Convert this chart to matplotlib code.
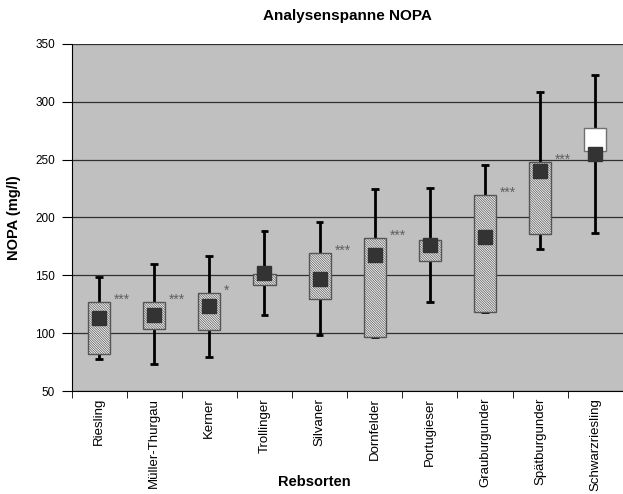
import matplotlib
matplotlib.use("Agg")
import matplotlib.pyplot as plt
from matplotlib.patches import Rectangle
import numpy as np

plt.rcParams['font.family'] = ['Liberation Sans', 'DejaVu Sans']
plt.rcParams['hatch.linewidth'] = 0.5

# values (mg/l)
sorten = ['Riesling', 'Müller-Thurgau', 'Kerner', 'Trollinger', 'Silvaner',
          'Dornfelder', 'Portugieser', 'Grauburgunder', 'Spätburgunder', 'Schwarzriesling']
mins   = [78, 73, 79, 116, 98.5, 97, 127, 118.5, 172.5, 187]
q_low  = [82, 103.5, 102.5, 141.5, 129.5, 97, 162.5, 118.5, 185.5, 257.5]
q_high = [127, 127, 135, 151, 169.5, 182.5, 180.5, 219.5, 248, 277]
maxs   = [148.5, 159.5, 167, 188, 196, 225, 225.5, 245, 308.5, 323]
mittel = [113, 116, 123.5, 152, 147, 168, 176, 183, 240.5, 254.5]
signif = ['***', '***', '*', '', '***', '***', '', '***', '***', '']

fig = plt.figure(figsize=(6.23, 4.94), dpi=100)
ax = fig.add_axes([0.1148, 0.2085, 0.885, 0.7025])
ax.set_facecolor('#c0c0c0')

x = np.arange(len(sorten))
bw = 0.4

for i in x:
    ax.plot([i, i], [mins[i], maxs[i]], color='black', lw=2, zorder=3, solid_capstyle='butt')
    for v in (mins[i], maxs[i]):
        ax.plot([i - 0.07, i + 0.07], [v, v], color='black', lw=2, zorder=3, solid_capstyle='butt')
    if sorten[i] == 'Schwarzriesling':
        box = Rectangle((i - bw / 2, q_low[i]), bw, q_high[i] - q_low[i],
                        facecolor='white', edgecolor='#707070', lw=1, zorder=4)
    else:
        box = Rectangle((i - bw / 2, q_low[i]), bw, q_high[i] - q_low[i],
                        facecolor='#f4f4f4', edgecolor='#555555', lw=1,
                        hatch='\\' * 14, zorder=4)
    ax.add_patch(box)
    if signif[i]:
        ax.text(i + bw / 2 + 0.07, q_high[i] - 2, signif[i], fontsize=10, color='#606060',
                ha='left', va='baseline', zorder=5)

ax.plot(x, mittel, linestyle='none', marker='s', markersize=10.5,
        color='#333333', zorder=6)

ax.set_xlim(-0.5, len(sorten) - 0.5)
ax.set_ylim(50, 350)
ax.set_yticks(np.arange(50, 351, 50))
ax.yaxis.grid(True, color='#303030', lw=0.9)
ax.set_axisbelow(True)

ax.set_xticks(x)
ax.set_xticklabels(sorten, rotation=90, fontsize=9.5)
ax.set_xticks(np.arange(-0.5, len(sorten), 1), minor=True)
ax.tick_params(axis='x', which='major', length=0, pad=5)
ax.tick_params(axis='x', which='minor', length=5, direction='out')
ax.tick_params(axis='y', labelsize=8.5, length=7, direction='out', pad=5)

for s in ('top', 'right'):
    ax.spines[s].set_visible(False)
ax.spines['left'].set_color('black')
ax.spines['bottom'].set_color('black')

ax.set_title('Analysenspanne NOPA', fontsize=11, fontweight='bold', pad=17)
ax.set_ylabel('NOPA (mg/l)', fontsize=10.5, fontweight='bold')
ax.yaxis.set_label_coords(-0.092, 0.5)
ax.set_xlabel('Rebsorten', fontsize=10.5, fontweight='bold', va='center')
ax.xaxis.set_label_coords(0.44, -0.263)

fig.savefig('out.png', dpi=100)
